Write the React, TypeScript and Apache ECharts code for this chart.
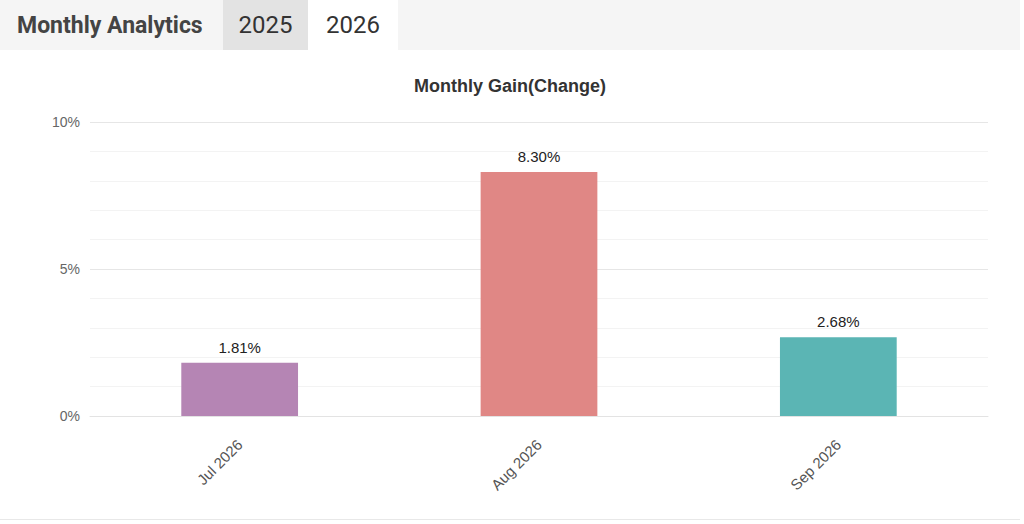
import { useEffect, useRef } from "react";
import * as echarts from "echarts";

const months = ["Jul 2026", "Aug 2026", "Sep 2026"];
const gains = [1.81, 8.3, 2.68];
const barColors = ["#b585b4", "#e08785", "#5bb5b4"];
const years = ["2025", "2026"];
const activeYear = "2026";

function App() {
  const chartRef = useRef<HTMLDivElement>(null);

  useEffect(() => {
    document.body.style.margin = "0";
    if (!chartRef.current) return;
    const chart = echarts.init(chartRef.current, undefined, { renderer: "svg" });

    const option: echarts.EChartsOption = {
      animation: false,
      title: {
        text: "Monthly Gain(Change)",
        left: "center",
        top: 22,
        textStyle: {
          fontFamily: "Liberation Sans",
          fontSize: 18,
          fontWeight: "bold",
          color: "#333",
        },
      },
      grid: { left: 90, right: 32, top: 72, bottom: 103 },
      xAxis: {
        type: "category",
        data: months,
        axisLine: { lineStyle: { color: "#e3e3e3" } },
        axisTick: { show: false },
        axisLabel: {
          rotate: 45,
          margin: 26,
          color: "#555",
          fontSize: 15,
          fontFamily: "Liberation Sans",
        },
      },
      yAxis: {
        type: "value",
        min: 0,
        max: 10,
        interval: 5,
        axisLine: { show: false },
        axisTick: { show: false },
        axisLabel: {
          formatter: "{value}%",
          color: "#666",
          fontSize: 14,
          margin: 10,
          fontFamily: "Liberation Sans",
        },
        splitLine: { lineStyle: { color: "#e6e6e6" } },
        minorTick: { show: false, splitNumber: 5 },
        minorSplitLine: { show: true, lineStyle: { color: "#f3f3f3" } },
      },
      series: [
        {
          type: "bar",
          barWidth: "39%",
          data: gains.map((v, i) => ({ value: v, itemStyle: { color: barColors[i] } })),
          label: {
            show: true,
            position: "top",
            distance: 8,
            color: "#222",
            fontSize: 15,
            fontFamily: "Liberation Sans",
            formatter: (p: any) => `${Number(p.value).toFixed(2)}%`,
          },
        },
      ],
    };
    chart.setOption(option);
    return () => chart.dispose();
  }, []);

  return (
    <div
      style={{
        position: "absolute",
        left: 0,
        top: 0,
        width: 1024,
        height: 524,
        background: "#fff",
        fontFamily: "Roboto",
      }}
    >
      <div
        style={{
          height: 50,
          width: 1020,
          background: "#f5f5f5",
          display: "flex",
          alignItems: "stretch",
        }}
      >
        <div
          style={{
            paddingLeft: 17,
            width: 206,
            display: "flex",
            alignItems: "center",
            fontSize: 23,
            fontWeight: "bold",
            color: "#444",
          }}
        >
          Monthly Analytics
        </div>
        {years.map((y) => (
          <div
            key={y}
            style={{
              width: y === activeYear ? 90 : 85,
              display: "flex",
              alignItems: "center",
              justifyContent: "center",
              fontSize: 24,
              color: "#333",
              background: y === activeYear ? "#fff" : "#e3e3e3",
            }}
          >
            {y}
          </div>
        ))}
      </div>
      <div
        ref={chartRef}
        style={{
          width: 1020,
          height: 470,
          borderBottom: "1px solid #e8e8e8",
          boxSizing: "border-box",
        }}
      />
    </div>
  );
}

export default App;
